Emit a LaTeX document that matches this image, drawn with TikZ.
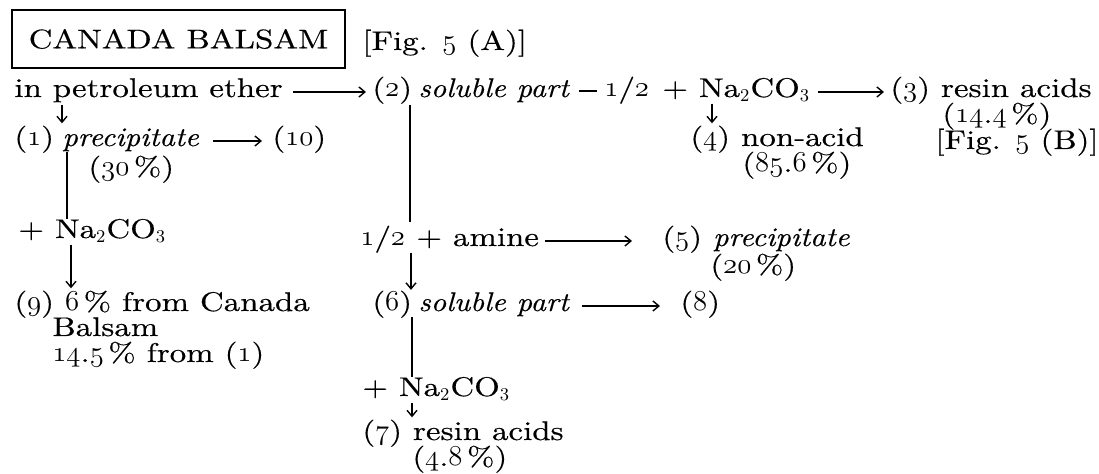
\documentclass[tikz,border=0pt]{standalone}
\usepackage{fontspec}
\setmainfont{lmroman10-regular.otf}[FakeBold=0.4, FakeStretch=1.22,
  ItalicFont=lmroman10-italic.otf, ItalicFeatures={FakeStretch=1.12},
  BoldFont=lmroman10-bold.otf]
\newcommand{\osn}[1]{{\usefont{OML}{cmm}{m}{it}#1}}
\newcommand{\naco}{Na$_2$CO$_3$}
\usetikzlibrary{arrows.meta}
\begin{document}
\begin{tikzpicture}[x=0.5pt,y=-0.5pt,
  txt/.style={inner sep=0pt, anchor=base west, font=\fontsize{13.5}{15}\selectfont},
  arr/.style={line width=0.7pt, -{Straight Barb[length=3pt,width=5pt]}},
  ln/.style={line width=0.7pt}]
\useasboundingbox (0,0) rectangle (1099,474);
% title box
\node[draw, line width=0.75pt, minimum width=166.5pt, minimum height=29pt, inner sep=0pt,
      font=\fontsize{13.5}{15}\selectfont] (box) at (178.5,39) {CANADA BALSAM};
\node[txt] (figA) at (362,50) {[Fig. \osn{5} (A)]};
% row 2
\node[txt] (pet) at (14,97) {in petroleum ether};
\node[txt] (n2) at (372,97) {(\osn{2})};
\node[txt] (s2) at (418,97) {\textit{soluble part}};
\node[txt] (half1) at (604,97) {\osn{1}/\osn{2}};
\node[txt] (plus1) at (662,97) {+ \naco};
\node[txt] (r3) at (890,97) {(\osn{3}) resin acids};
\node[txt] (p144) at (942,123) {(\osn{14}.\osn{4}\,\%)};
\node[txt] (figB) at (935,149) {[Fig. \osn{5} (B)]};
\node[txt] (n4) at (690,146) {(\osn{4}) non-acid};
\node[txt] (p856) at (742,172) {(\osn{85}.\osn{6}\,\%)};
% left column
\node[txt] (n1) at (14,146) {(\osn{1})};
\node[txt] (prec1) at (62,146) {\textit{precipitate}};
\node[txt] (n10) at (272,146) {(\osn{10})};
\node[txt] (p30) at (88,176) {(\osn{30}\,\%)};
\node[txt] (na1) at (18,238) {+ \naco};
\node[txt] (n9) at (14,311) {(\osn{9}) \osn{6}\,\% from Canada};
\node[txt] (bal) at (52,336) {Balsam};
\node[txt] (p145) at (52,362) {\osn{14}.\osn{5}\,\% from (\osn{1})};
% middle column
\node[txt] (half2) at (360,246) {\osn{1}/\osn{2}};
\node[txt] (plus2) at (416,246) {+ amine};
\node[txt] (n5) at (662,246) {(\osn{5}) \textit{precipitate}};
\node[txt] (p20) at (710,274) {(\osn{20}\,\%)};
\node[txt] (n6) at (372,311) {(\osn{6})};
\node[txt] (s6) at (418,311) {\textit{soluble part}};
\node[txt] (n8) at (680,311) {(\osn{8})};
\node[txt] (na7) at (362,396) {+ \naco};
\node[txt] (r7) at (362,440) {(\osn{7}) resin acids};
\node[txt] (p48) at (412,466) {(\osn{4}.\osn{8}\,\%)};
% connectors
\draw[arr] ([xshift=5pt,yshift=2.5pt]pet.base east) -- ([xshift=-3pt,yshift=2.5pt]n2.base west);
\draw[ln] ([xshift=4.5pt,yshift=3pt]s2.base east) -- ([xshift=-3.5pt,yshift=3pt]half1.base west);
\draw[arr] ([xshift=4pt,yshift=2.5pt]plus1.base east) -- ([xshift=-3pt,yshift=2.5pt]r3.base west);
\draw[arr] ([xshift=25pt,yshift=-1pt]plus1.south west) -- ([xshift=25pt,yshift=1pt]plus1.south west |- n4.north);
\draw[arr] ([xshift=24pt,yshift=-1pt]pet.south west) -- ([xshift=24pt,yshift=1pt]pet.south west |- n1.north);
\draw[arr] ([xshift=7pt,yshift=2.5pt]prec1.base east) -- ([xshift=-5pt,yshift=2.5pt]n10.base west);
\draw[ln] ([xshift=2.5pt]prec1.south west) -- ([xshift=2.5pt]prec1.south west |- na1.north);
\draw[arr] ([xshift=26.5pt,yshift=-1pt]na1.south west) -- ([xshift=26.5pt,yshift=1pt]na1.south west |- n9.north);
\draw[ln] ([xshift=-4pt,yshift=-1pt]s2.south west) -- ([xshift=-4pt,yshift=3pt]s2.south west |- plus2.north);
\draw[arr] ([xshift=-3.5pt,yshift=-2pt]s6.north west |- plus2.south) -- ([xshift=-3.5pt,yshift=1pt]s6.north west);
\draw[arr] ([xshift=3pt,yshift=2.5pt]plus2.base east) -- ([xshift=-15pt,yshift=2.5pt]n5.base west);
\draw[arr] ([xshift=6pt,yshift=2.5pt]s6.base east) -- ([xshift=-10pt,yshift=2.5pt]n8.base west);
\draw[ln] ([xshift=-3pt]s6.south west) -- ([xshift=-3pt]s6.south west |- na7.north);
\draw[arr] ([xshift=-3pt,yshift=-1pt]s6.south west |- na7.south) -- ([xshift=-3pt,yshift=1pt]s6.south west |- r7.north);
\end{tikzpicture}
\end{document}
